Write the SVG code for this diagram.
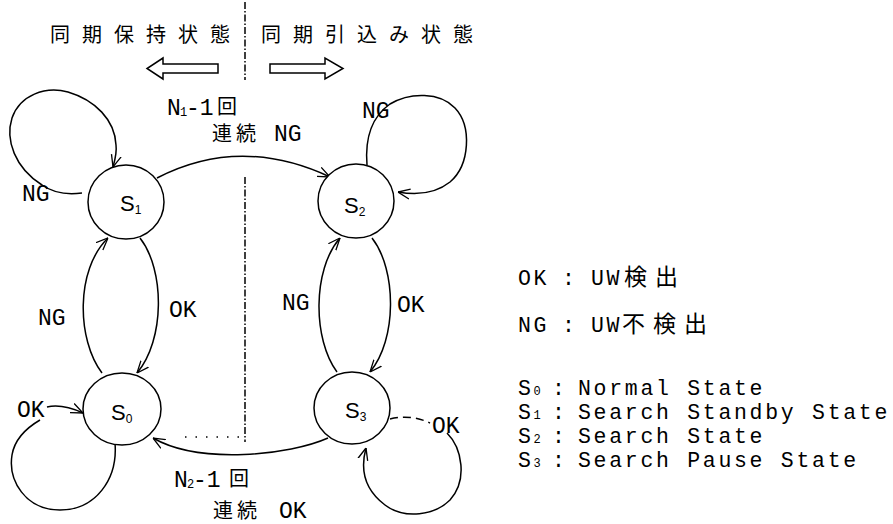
<svg xmlns="http://www.w3.org/2000/svg" width="893" height="524" viewBox="0 0 893 524">
<style>
.ln{fill:none;stroke:#000;stroke-width:1.5}
.st{fill:#fff;stroke:#000;stroke-width:1.5}
.m{font-family:"Liberation Mono","DejaVu Sans Mono",monospace;font-size:23px;fill:#000}
.j{font-family:"Noto Sans CJK JP","Noto Sans CJK SC",sans-serif;font-size:20px;fill:#000}
.s{font-family:"Liberation Sans",Arial,sans-serif;font-size:22px;fill:#000}
.sub{font-size:12px}
.lg{font-family:"Liberation Mono","DejaVu Sans Mono",monospace;font-size:21.5px;fill:#000;letter-spacing:2.7px}
</style>
<defs>
<marker id="ah" viewBox="0 0 12 12" refX="12" refY="6" markerWidth="12" markerHeight="12" markerUnits="userSpaceOnUse" orient="auto">
<path d="M0,1 L12,6 L0,11" fill="none" stroke="#000" stroke-width="1.3"/>
</marker>
</defs>
<rect width="893" height="524" fill="#fff"/>

<g id="header">
<text class="j" x="50" y="42" style="letter-spacing:12px">同期保持状態</text>
<text class="j" x="261" y="42" style="letter-spacing:12px">同期引込み状態</text>
<polygon class="ln" points="218,64 163,64 163,58 147,68.5 163,79 163,73 218,73"/>
<polygon class="ln" points="270,64 325,64 325,58 343,68.5 325,79 325,73 270,73"/>
<path class="ln" d="M245,2 V80 M245,177 V442" stroke-dasharray="7 2 1.5 2"/>
</g>

<g id="connectors">
<path class="ln" d="M157,178 Q240,135 330,177" marker-end="url(#ah)"/>
<path class="ln" d="M82,193 C68,195 55,194 42,185 C15,168 5,140 12,118 C20,95 45,86 68,92 C95,100 115,120 116,145 C117,152 115,160 113,167" marker-end="url(#ah)"/>
<path class="ln" d="M367,165 C365,140 370,118 390,104 C410,92 440,92 455,108 C472,126 470,165 450,182 C435,194 415,195 398,192" marker-end="url(#ah)"/>
<path class="ln" d="M102,373 C77,340 75,270 108,238" marker-end="url(#ah)"/>
<path class="ln" d="M140,238 C165,270 165,340 137,373" marker-end="url(#ah)"/>
<path class="ln" d="M337,372 C313,340 312,270 340,238" marker-end="url(#ah)"/>
<path class="ln" d="M372,238 C397,270 397,340 370,372" marker-end="url(#ah)"/>
<path class="ln" d="M115,443 C118,480 95,510 60,510 C25,510 8,480 12,455 C15,437 28,427 40,420"/>
<path class="ln" d="M47,407 C60,404 72,408 83,413" marker-end="url(#ah)"/>
<path class="ln" d="M390,419 C405,415 420,418 430,423" stroke-dasharray="8 5"/>
<path class="ln" d="M447,433 C462,448 468,480 450,500 C435,515 405,520 385,505 C365,490 360,470 366,448" marker-end="url(#ah)"/>
<path class="ln" d="M328,438 C290,455 200,465 153,438" marker-end="url(#ah)"/>
<path class="ln" d="M185,437 H243" stroke-dasharray="1.5 9"/>
</g>

<g id="S1"><ellipse class="st" cx="126" cy="202" rx="38" ry="37"/><text class="s" x="120" y="211">S<tspan class="sub" dy="3">1</tspan></text></g>
<g id="S2"><ellipse class="st" cx="356" cy="201" rx="38" ry="37"/><text class="s" x="344" y="213">S<tspan class="sub" dy="3">2</tspan></text></g>
<g id="S0"><ellipse class="st" cx="122" cy="409" rx="39" ry="36"/><text class="s" x="111" y="420">S<tspan class="sub" dy="3">0</tspan></text></g>
<g id="S3"><ellipse class="st" cx="352" cy="408" rx="38" ry="36"/><text class="s" x="345" y="418">S<tspan class="sub" dy="3">3</tspan></text></g>

<g id="labels">
<text class="m" x="22" y="201">NG</text>
<text class="m" x="38" y="325">NG</text>
<text class="m" x="169" y="317">OK</text>
<text class="m" x="282" y="310">NG</text>
<text class="m" x="397" y="312">OK</text>
<text class="m" x="362" y="118">NG</text>
<text class="m" x="17" y="417">OK</text>
<text class="m" x="432" y="433">OK</text>
<text class="m" x="167" y="115">N</text><text class="m" x="180" y="116" style="font-size:12px">1</text><text class="m" x="186" y="115">-1</text><text class="j" x="217" y="114">回</text>
<text class="j" x="212" y="141" style="letter-spacing:4px">連続</text><text class="m" x="274" y="141">NG</text>
<text class="m" x="174" y="487">N</text><text class="m" x="187" y="488" style="font-size:12px">2</text><text class="m" x="193" y="487">-1</text><text class="j" x="229" y="486">回</text>
<text class="j" x="213" y="518" style="letter-spacing:4px">連続</text><text class="m" x="279" y="518">OK</text>
</g>

<g id="legend">
<text class="lg" x="518" y="285">OK</text><text class="lg" x="562" y="285">:</text><text class="lg" x="591" y="285">UW</text><text class="j" x="624" y="285" style="font-size:23px;letter-spacing:8px">検出</text>
<text class="lg" x="518" y="332">NG</text><text class="lg" x="562" y="332">:</text><text class="lg" x="591" y="332">UW</text><text class="j" x="622" y="332" style="font-size:23px;letter-spacing:8px">不検出</text>
<text class="lg" x="518" y="395">S<tspan style="font-size:12px;letter-spacing:0">0</tspan></text><text class="lg" x="552" y="395">:</text><text class="lg" x="578" y="395">Normal State</text>
<text class="lg" x="518" y="419">S<tspan style="font-size:12px;letter-spacing:0">1</tspan></text><text class="lg" x="552" y="419">:</text><text class="lg" x="578" y="419">Search Standby State</text>
<text class="lg" x="518" y="443">S<tspan style="font-size:12px;letter-spacing:0">2</tspan></text><text class="lg" x="552" y="443">:</text><text class="lg" x="578" y="443">Search State</text>
<text class="lg" x="518" y="467">S<tspan style="font-size:12px;letter-spacing:0">3</tspan></text><text class="lg" x="552" y="467">:</text><text class="lg" x="578" y="467">Search Pause State</text>
</g>
</svg>
